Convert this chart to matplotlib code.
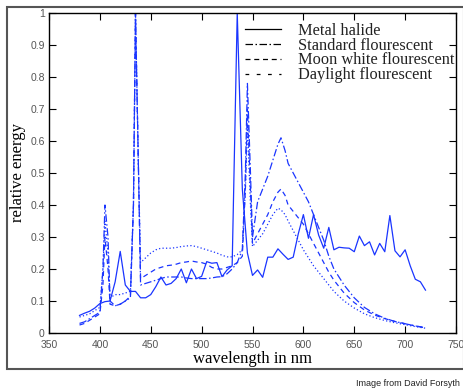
import matplotlib
matplotlib.use("Agg")
import matplotlib.pyplot as plt
from matplotlib.patches import Rectangle
from matplotlib.lines import Line2D

# ---- data ----
wl_metal = [380,385,390,395,400,405,410,415,420,425,430,435,440,445,450,455,460,465,470,475,
            480,485,490,495,500,505,510,515,520,525,530,535,540,545,550,555,560,565,570,575,
            580,585,590,595,600,605,610,615,620,625,630,635,640,645,650,655,660,665,670,675,
            680,685,690,695,700,705,710,715,720]
metal_halide = [0.055,0.062,0.068,0.078,0.092,0.098,0.100,0.160,0.255,0.150,0.130,0.130,0.110,0.110,0.120,
                0.145,0.175,0.150,0.155,0.170,0.200,0.157,0.200,0.170,0.177,0.223,0.218,0.220,0.176,0.197,
                0.210,1.000,0.450,0.250,0.180,0.197,0.174,0.237,0.237,0.263,0.246,0.230,0.237,0.310,0.370,
                0.296,0.370,0.306,0.265,0.330,0.260,0.268,0.266,0.265,0.254,0.303,0.273,0.285,0.244,0.280,
                0.254,0.367,0.257,0.238,0.260,0.210,0.168,0.160,0.134]

wl_fluor = [380,385,390,395,400,403,405,408,410,415,420,425,430,433,435,438,440,445,450,455,
            460,465,470,475,480,485,490,495,500,505,510,515,520,525,530,535,540,543,545,548,
            550,555,560,565,570,575,578,582,585,590,595,600,605,610,615,620,625,630,640,650,
            660,670,680,690,700,710,720]
standard_fluor = [0.030,0.035,0.045,0.055,0.065,0.200,0.400,0.300,0.100,0.085,0.090,0.100,0.110,0.400,1.000,
                  0.500,0.150,0.155,0.160,0.165,0.170,0.175,0.175,0.175,0.175,0.172,0.170,0.170,0.170,0.170,
                  0.172,0.175,0.176,0.185,0.200,0.220,0.260,0.500,0.780,0.500,0.300,0.410,0.450,0.490,0.540,
                  0.590,0.610,0.570,0.530,0.500,0.470,0.440,0.410,0.370,0.330,0.290,0.240,0.200,0.150,0.110,
                  0.080,0.060,0.046,0.036,0.029,0.022,0.016]
moon_white = [0.025,0.030,0.040,0.050,0.060,0.150,0.300,0.200,0.090,0.085,0.090,0.100,0.115,0.400,1.000,
              0.500,0.170,0.180,0.190,0.200,0.205,0.210,0.212,0.215,0.220,0.222,0.225,0.222,0.220,0.215,
              0.205,0.200,0.200,0.205,0.210,0.220,0.240,0.450,0.700,0.450,0.280,0.310,0.340,0.370,0.410,
              0.440,0.450,0.430,0.400,0.380,0.360,0.340,0.310,0.280,0.250,0.220,0.190,0.165,0.125,0.095,
              0.072,0.056,0.045,0.036,0.029,0.022,0.017]
daylight_fluor = [0.050,0.055,0.060,0.070,0.080,0.200,0.350,0.250,0.110,0.120,0.120,0.125,0.130,0.400,1.000,
                  0.500,0.220,0.235,0.250,0.260,0.265,0.265,0.265,0.267,0.270,0.272,0.273,0.270,0.265,0.260,
                  0.255,0.250,0.243,0.238,0.238,0.245,0.260,0.450,0.650,0.400,0.270,0.290,0.310,0.340,0.370,
                  0.390,0.385,0.370,0.350,0.320,0.290,0.260,0.235,0.210,0.190,0.170,0.150,0.130,0.100,0.078,
                  0.060,0.048,0.039,0.032,0.026,0.020,0.015]

labels = ["Metal halide", "Standard flourescent", "Moon white flourescent", "Daylight flourescent"]
x_ticks = [350, 400, 450, 500, 550, 600, 650, 700, 750]
y_ticks = [0, 0.1, 0.2, 0.3, 0.4, 0.5, 0.6, 0.7, 0.8, 0.9, 1]
y_ticklabels = ["0", "0.1", "0.2", "0.3", "0.4", "0.5", "0.6", "0.7", "0.8", "0.9", "1"]

# ---- figure ----
W, H = 464, 391
fig = plt.figure(figsize=(W / 100, H / 100), dpi=100)
ax = fig.add_axes([49 / W, 1 - 333 / H, (456 - 49) / W, (333 - 13) / H])

blue = "#1a35ff"
lw = 0.9
ax.plot(wl_metal, metal_halide, color=blue, lw=lw, ls="-", label=labels[0])
ax.plot(wl_fluor, standard_fluor, color=blue, lw=lw, ls=(0, (6, 2, 1.2, 2)), label=labels[1])
ax.plot(wl_fluor, moon_white, color=blue, lw=lw, ls=(0, (4, 3)), label=labels[2])
ax.plot(wl_fluor, daylight_fluor, color=blue, lw=lw, ls=(0, (1, 1.8)), label=labels[3])

ax.set_xlim(350, 750)
ax.set_ylim(0, 1)
ax.set_xticks(x_ticks)
ax.set_yticks(y_ticks)
ax.set_yticklabels(y_ticklabels)
ax.tick_params(direction="in", top=True, right=True, length=5, width=0.8,
               labelsize=7.5, labelcolor="#555555")
ax.tick_params(axis="x", pad=5)
ax.tick_params(axis="y", pad=3)
for lab in ax.get_xticklabels() + ax.get_yticklabels():
    lab.set_family("Liberation Sans")
for s in ax.spines.values():
    s.set_linewidth(1.0)

ax.set_xlabel("wavelength in nm", family="Liberation Serif", fontsize=12, labelpad=1)
ax.set_ylabel("relative energy", family="Liberation Serif", fontsize=12, labelpad=3)

# legend with black handles (as in the reference)
handles = [
    Line2D([], [], color="black", lw=0.9, ls="-"),
    Line2D([], [], color="black", lw=0.9, ls=(0, (6, 2, 1.2, 2))),
    Line2D([], [], color="black", lw=0.9, ls=(0, (4, 3))),
    Line2D([], [], color="black", lw=0.9, ls=(0, (3, 6))),
]
leg = ax.legend(handles, labels, loc="upper left", bbox_to_anchor=(0.465, 0.99),
                frameon=False, prop={"family": "Liberation Serif", "size": 11.8},
                handlelength=2.2, handletextpad=1.05, labelspacing=-0.07, borderaxespad=0)
for t in leg.get_texts():
    t.set_color("#222222")

# outer frame
fig.patches.append(Rectangle((7 / W, 1 - 369 / H), (464 - 7) / W, (369 - 7) / H,
                             transform=fig.transFigure, fill=False,
                             edgecolor="#555555", lw=1.5, clip_on=False))

fig.text(460 / W, 1 - 383 / H, "Image from David Forsyth", ha="right", va="center",
         fontsize=6.5, family="Liberation Sans", color="#222222")

fig.savefig("out.png", dpi=100)
